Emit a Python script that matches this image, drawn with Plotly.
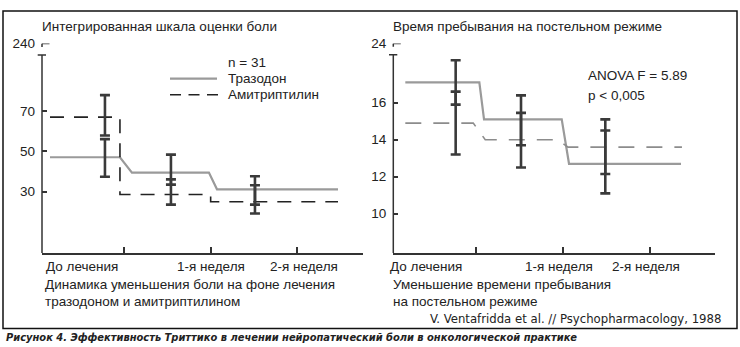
import plotly.graph_objects as go

W, H = 740, 347

# ---------------- data ----------------
periods = ["До лечения", "1-я неделя", "2-я неделя"]

# Integrated pain score: mean level per period and error-bar limits
pain_trazodone = [47.0, 39.4, 31.1]
pain_amitriptyline = [66.9, 28.5, 24.9]
pain_trazodone_low = [37.3, 33.4, 23.5]
pain_trazodone_high = [56.0, 48.3, 37.6]
pain_amitriptyline_low = [57.8, 23.5, 19.1]
pain_amitriptyline_high = [77.8, 36.0, 33.1]

# Time spent in bed (hours): mean level per period and error-bar limits
bed_trazodone = [17.1, 15.1, 12.7]
bed_amitriptyline = [14.9, 14.0, 13.6]
bed_trazodone_low = [15.9, 13.7, 11.1]
bed_trazodone_high = [18.3, 16.4, 14.5]
bed_amitriptyline_low = [13.2, 12.5, 12.15]
bed_amitriptyline_high = [16.6, 15.45, 15.1]

pain_ticks = [30, 50, 70]
pain_top_label = "240"
bed_ticks = [10, 12, 14, 16]
bed_top_label = "24"

# ---------------- layout constants ----------------
TEXT = "#222222"
AXIS = "#333333"
ERR = "#3a3a3a"
SOLID = "#9a9a9a"
FONT = "Liberation Sans, Arial, sans-serif"
NARROW = "DejaVu Sans Condensed, Liberation Sans Narrow, Arial Narrow, sans-serif"
FS = 13.5

# panel geometry (pixels)
L_X0, L_X1 = 42, 363
R_X0, R_X1 = 393.3, 715
Y_BOT, Y_TOP = 251, 37.3

# axis ranges (x in period units, ticks at 1, 2, 3)
L_XR = [0.055, 3.757]
R_XR = [0.048, 3.746]
L_YR = [-0.47, 103.4]
R_YR = [7.88, 19.2]
L_BREAK, L_STUB = 97.7, 101.7
R_BREAK, R_STUB = 18.6, 19.03

# horizontal extents of each period level on the step lines
L_SOLID_SPANS = [(0.147, 0.954), (1.092, 1.98), (2.073, 3.469)]
L_DASH_SPANS = [(0.147, 0.954), (0.954, 2.0), (2.0, 3.469)]
L_ERR_X = [0.781, 1.542, 2.511]
L_LABEL_X = [0.512, 2.0, 3.08]

R_SOLID_SPANS = [(0.186, 1.037), (1.091, 1.984), (2.068, 3.355)]
R_DASH_SPANS = [(0.186, 0.967), (1.105, 1.94), (2.056, 3.366)]
R_ERR_X = [0.765, 1.516, 2.485]
R_LABEL_X = [0.42, 1.95, 2.95]


def px(x):
    return x / W


def py(y):
    return 1 - y / H


def step_path(values, spans):
    xs, ys = [], []
    for v, (s, e) in zip(values, spans):
        xs += [s, e]
        ys += [v, v]
    return xs, ys


def err_trace(xs, means, lows, highs, xa, ya):
    return go.Scatter(
        x=xs, y=means, xaxis=xa, yaxis=ya, mode="markers",
        marker=dict(size=1, color="rgba(0,0,0,0)"),
        error_y=dict(type="data", symmetric=False,
                     array=[h - m for h, m in zip(highs, means)],
                     arrayminus=[m - l for m, l in zip(means, lows)],
                     color=ERR, thickness=2.6, width=5),
        hoverinfo="skip", showlegend=False,
    )


fig = go.Figure()

# ---- left panel: pain score ----
x, y = step_path(pain_trazodone, L_SOLID_SPANS)
fig.add_trace(go.Scatter(x=x, y=y, mode="lines", xaxis="x", yaxis="y",
                         line=dict(color=SOLID, width=2.2), showlegend=False))
x, y = step_path(pain_amitriptyline, L_DASH_SPANS)
fig.add_trace(go.Scatter(x=x, y=y, mode="lines", xaxis="x", yaxis="y",
                         line=dict(color="#222222", width=1.6, dash="14px,10px"),
                         showlegend=False))
fig.add_trace(err_trace(L_ERR_X, pain_trazodone, pain_trazodone_low,
                        pain_trazodone_high, "x", "y"))
fig.add_trace(err_trace(L_ERR_X, pain_amitriptyline, pain_amitriptyline_low,
                        pain_amitriptyline_high, "x", "y"))

# ---- right panel: time in bed ----
x, y = step_path(bed_trazodone, R_SOLID_SPANS)
fig.add_trace(go.Scatter(x=x, y=y, mode="lines", xaxis="x2", yaxis="y2",
                         line=dict(color=SOLID, width=2.2), showlegend=False))
x, y = step_path(bed_amitriptyline, R_DASH_SPANS)
fig.add_trace(go.Scatter(x=x, y=y, mode="lines", xaxis="x2", yaxis="y2",
                         line=dict(color="#8c8c8c", width=1.6, dash="16px,12px"),
                         showlegend=False))
fig.add_trace(err_trace(R_ERR_X, bed_trazodone, bed_trazodone_low,
                        bed_trazodone_high, "x2", "y2"))
fig.add_trace(err_trace(R_ERR_X, bed_amitriptyline, bed_amitriptyline_low,
                        bed_amitriptyline_high, "x2", "y2"))

xcommon = dict(showline=True, linecolor=AXIS, linewidth=1.5, ticks="inside",
               tickvals=[1, 2, 3], ticklen=6, tickwidth=1.5, tickcolor=AXIS,
               showticklabels=False, showgrid=False, zeroline=False, fixedrange=True)
ycommon = dict(showline=False, ticks="inside", ticklen=5, tickwidth=1.5,
               tickcolor=AXIS, showgrid=False, zeroline=False,
               tickfont=dict(family=FONT, size=FS, color=TEXT),
               ticklabelstandoff=6, fixedrange=True)

fig.update_layout(
    width=W, height=H, margin=dict(l=0, r=0, t=0, b=0),
    paper_bgcolor="white", plot_bgcolor="white", showlegend=False,
    font=dict(family=FONT, size=FS, color=TEXT),
    xaxis=dict(domain=[px(L_X0), px(L_X1)], range=L_XR, anchor="y", **xcommon),
    yaxis=dict(domain=[py(Y_BOT), py(Y_TOP)], range=L_YR, anchor="x",
               tickvals=pain_ticks + [L_YR[1] - 0.05],
               ticktext=[str(t) for t in pain_ticks] + [pain_top_label], **ycommon),
    xaxis2=dict(domain=[px(R_X0), px(R_X1)], range=R_XR, anchor="y2", **xcommon),
    yaxis2=dict(domain=[py(Y_BOT), py(Y_TOP)], range=R_YR, anchor="x2",
                tickvals=bed_ticks + [R_YR[1] - 0.005],
                ticktext=[str(t) for t in bed_ticks] + [bed_top_label], **ycommon),
)

shapes = []
# outer frame
shapes.append(dict(type="rect", xref="paper", yref="paper",
                   x0=px(3), x1=px(737), y0=py(328), y1=py(4),
                   line=dict(color="#111111", width=1.5)))

# broken y-axes
for xa, ya, yr, brk, stub, wpx in (("x", "y", L_YR, L_BREAK, L_STUB, L_X1 - L_X0),
                                  ("x2", "y2", R_YR, R_BREAK, R_STUB, R_X1 - R_X0)):
    xd = xa + " domain"
    line = dict(color=AXIS, width=1.5)
    shapes.append(dict(type="line", xref=xd, yref=ya, x0=0, x1=0,
                       y0=yr[0], y1=brk, line=line))
    shapes.append(dict(type="line", xref=xd, yref=ya, x0=-4.3 / wpx, x1=4 / wpx,
                       y0=brk, y1=brk, line=line))
    shapes.append(dict(type="line", xref=xd, yref=ya, x0=0, x1=7.5 / wpx,
                       y0=yr[1], y1=yr[1], line=line))
    shapes.append(dict(type="line", xref=xd, yref=ya, x0=0, x1=0,
                       y0=stub, y1=yr[1], line=line))

# legend keys
shapes.append(dict(type="line", xref="paper", yref="paper", x0=px(170), x1=px(217),
                   y0=py(73), y1=py(73), line=dict(color=SOLID, width=2.2)))
shapes.append(dict(type="line", xref="paper", yref="paper", x0=px(170), x1=px(218),
                   y0=py(89.5), y1=py(89.5),
                   line=dict(color="#222222", width=1.6, dash="11px,7.5px")))
fig.update_layout(shapes=shapes)

ann = []


def text(x, y, s, anchor="left", size=FS, family=FONT, xref="paper", yref="paper"):
    ann.append(dict(x=x, y=y, xref=xref, yref=yref, text=s, showarrow=False,
                    xanchor=anchor, yanchor="middle",
                    font=dict(family=family, size=size, color=TEXT)))


text(px(40), py(20), "Интегрированная шкала оценки боли")
text(px(391), py(20), "Время пребывания на постельном режиме")

text(px(226), py(57), "n = 31")
text(px(226), py(73), "Тразодон")
text(px(226), py(89), "Амитриптилин")

text(px(586), py(70), "ANOVA F = 5.89")
text(px(586), py(90.5), "p < 0,005")

for lx, lab in zip(L_LABEL_X, periods):
    text(lx, py(265), lab, anchor="center", xref="x")
for lx, lab in zip(R_LABEL_X, periods):
    text(lx, py(265), lab, anchor="center", xref="x2")

text(px(43), py(283), "Динамика уменьшения боли на фоне лечения")
text(px(43), py(300.5), "тразодоном и амитриптилином")
text(px(391), py(283), "Уменьшение времени пребывания")
text(px(391), py(300.5), "на постельном режиме")

text(px(723), py(318), "V. Ventafridda et al. // Psychopharmacology, 1988",
     anchor="right", size=13, family=NARROW)
text(px(4), py(337.5),
     "<b><i>Рисунок 4. Эффективность Триттико в лечении нейропатический боли "
     "в онкологической практике</i></b>", size=11, family=NARROW)

fig.update_layout(annotations=ann)

fig.write_html("out.html")
